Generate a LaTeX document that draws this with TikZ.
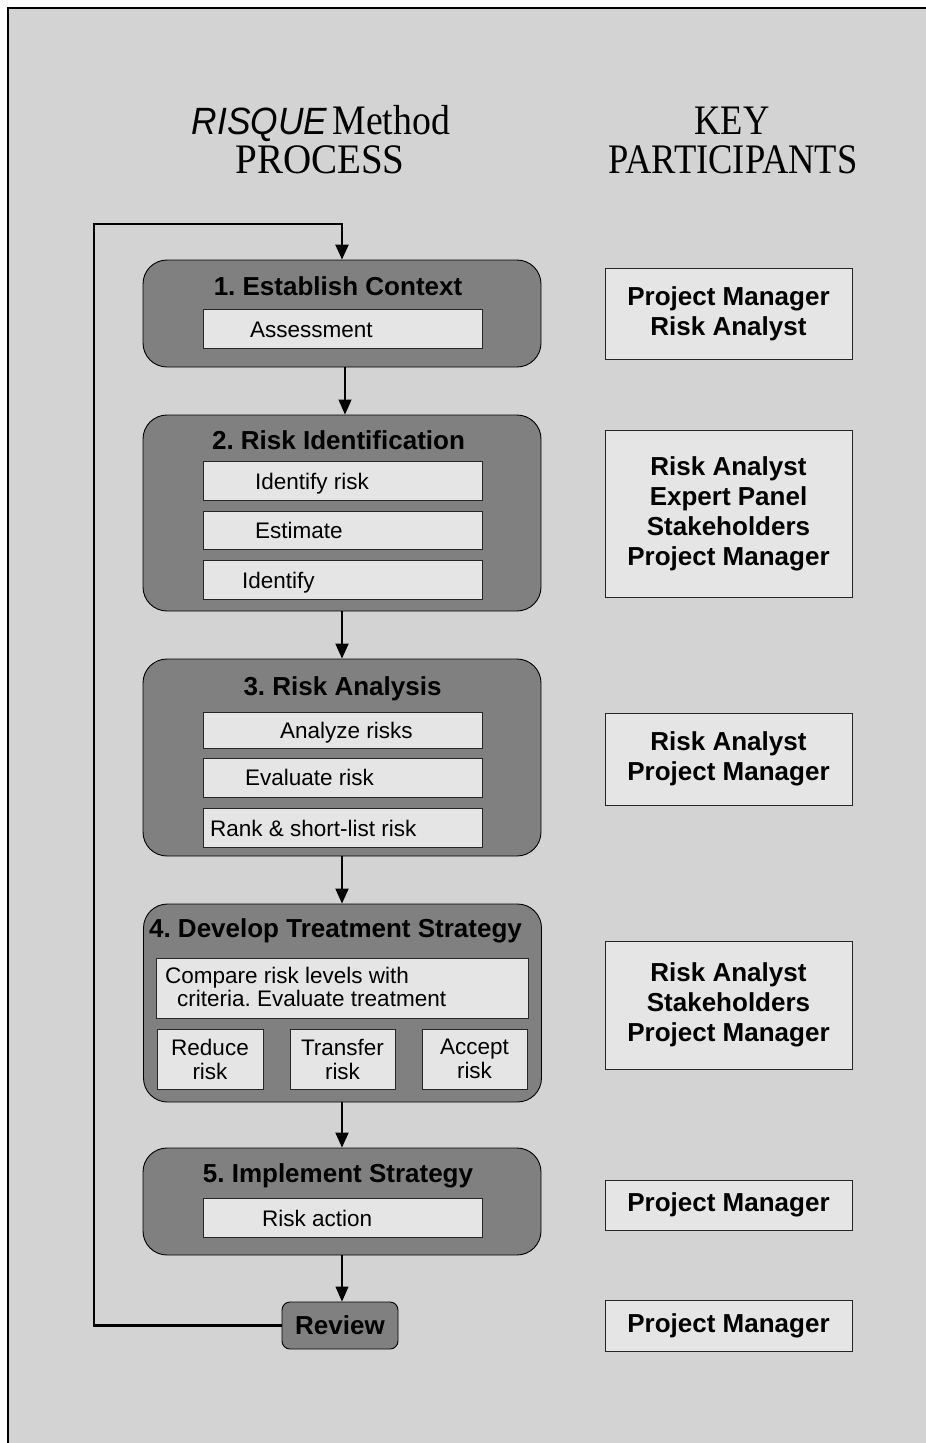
\documentclass[tikz,border=0pt]{standalone}
\usepackage{fontspec}
\setmainfont{Liberation Sans}
\newfontfamily\titleserif{Liberation Serif}
\usetikzlibrary{arrows.meta}
\definecolor{bggray}{RGB}{211,211,211}
\definecolor{darkbox}{RGB}{128,128,128}
\definecolor{lightbox}{RGB}{229,229,229}
\frenchspacing
\begin{document}
\begin{tikzpicture}[x=1pt,y=-1pt,
  phase/.style={draw=black, line width=0.9pt, fill=darkbox, rounded corners=24pt, minimum width=398pt, inner sep=0pt},
  subbox/.style={draw=black!85, line width=0.8pt, fill=lightbox, inner sep=0pt},
  subc/.style={subbox, align=center, font=\fontsize{22.5}{24}\selectfont},
  ptitle/.style={font=\fontsize{26}{30}\selectfont\bfseries, inner sep=0pt, anchor=base},
  subtext/.style={font=\fontsize{22.5}{23}\selectfont, inner sep=0pt, anchor=base west},
  partbox/.style={draw=black!85, line width=1pt, fill=lightbox, minimum width=247pt, align=center, inner sep=0pt, font=\fontsize{26}{30}\selectfont\bfseries},
  headline/.style={inner sep=0pt, anchor=base},
  flow/.style={line width=2pt, -{Triangle[length=15pt,width=13pt]}},
  flowthin/.style={line width=1.2pt, -{Triangle[length=15pt,width=13pt]}},
]
\useasboundingbox (0,0) rectangle (926,1443);
\fill[bggray] (8,8) rectangle (926,1443);
\draw[line width=2pt] (926,8) -- (8,8) -- (8,1443);

% headings
\node[headline] (H1) at (321,134) {\scalebox{0.93}[1]{\fontsize{38}{38}\selectfont\itshape RISQUE}\hspace{5pt}\scalebox{0.9}[1]{\titleserif\fontsize{42}{42}\selectfont Method}};
\node[headline] (H2) at (320,173) {\scalebox{0.93}[1]{\titleserif\fontsize{42}{42}\selectfont PROCESS}};
\node[headline] (H3) at (732,134) {\scalebox{0.87}[1]{\titleserif\fontsize{42}{42}\selectfont KEY}};
\node[headline] (H4) at (733,173) {\scalebox{0.87}[1]{\titleserif\fontsize{42}{42}\selectfont PARTICIPANTS}};

% phase 1
\node[phase, minimum height=107pt] (B1) at (342,313.5) {};
\node[ptitle] (T1) at (338,295) {1. Establish Context};
\node[subbox, minimum width=279pt, minimum height=39pt] (S1a) at (342.5,328.5) {};
\node[subtext] (L1a) at (250,337.3) {Assessment};

% phase 2
\node[phase, minimum height=196pt] (B2) at (342,513) {};
\node[ptitle] (T2) at (338.5,449) {2. Risk Identification};
\node[subbox, minimum width=279pt, minimum height=39pt] (S2a) at (342.5,480.5) {};
\node[subtext] (L2a) at (255,489) {Identify risk};
\node[subbox, minimum width=279pt, minimum height=38pt] (S2b) at (342.5,530) {};
\node[subtext] (L2b) at (255,538.5) {Estimate};
\node[subbox, minimum width=279pt, minimum height=39pt] (S2c) at (342.5,579.5) {};
\node[subtext] (L2c) at (242,588) {Identify};

% phase 3
\node[phase, minimum height=197pt] (B3) at (342,757.5) {};
\node[ptitle] (T3) at (342.5,695.5) {3. Risk Analysis};
\node[subbox, minimum width=279pt, minimum height=36pt] (S3a) at (342.5,730) {};
\node[subtext] (L3a) at (280,738.3) {Analyze risks};
\node[subbox, minimum width=279pt, minimum height=39pt] (S3b) at (342.5,777.5) {};
\node[subtext] (L3b) at (245,785.5) {Evaluate risk};
\node[subbox, minimum width=279pt, minimum height=39pt] (S3c) at (342.5,827.5) {};
\node[subtext] (L3c) at (210,836.5) {Rank \& short-list risk};

% phase 4
\node[phase, minimum height=198pt] (B4) at (342.5,1003) {};
\node[ptitle] (T4) at (335.5,937.5) {4. Develop Treatment Strategy};
\node[subbox, minimum width=372pt, minimum height=60pt] (S4) at (342,988) {};
\node[subtext, anchor=north west, align=left] (L4) at (165,967) {Compare risk levels with\\\hspace*{12pt}criteria. Evaluate treatment};
\node[subc, minimum width=106pt, minimum height=60pt] (S4r) at (210,1059) {Reduce\\risk};
\node[subc, minimum width=105pt, minimum height=60pt] (S4t) at (342.5,1059) {Transfer\\risk};
\node[subc, minimum width=105pt, minimum height=60pt] (S4a) at (474.5,1059) {Accept\\risk};

% phase 5
\node[phase, minimum height=107pt] (B5) at (342,1201.5) {};
\node[ptitle] (T5) at (338,1182) {5. Implement Strategy};
\node[subbox, minimum width=279pt, minimum height=39pt] (S5) at (342.5,1217.5) {};
\node[subtext] (L5) at (262,1226) {Risk action};

% review
\node[phase, rounded corners=8pt, minimum width=116pt, minimum height=47pt, font=\fontsize{26}{30}\selectfont\bfseries] (Rev) at (340,1325.5) {Review};

% participants
\node[partbox, minimum height=91pt] (P1) at (728.5,313.5) {Project Manager\\Risk Analyst};
\node[partbox, minimum height=167pt] (P2) at (728.5,513.5) {Risk Analyst\\Expert Panel\\Stakeholders\\Project Manager};
\node[partbox, minimum height=92pt] (P3) at (728.5,759) {Risk Analyst\\Project Manager};
\node[partbox, minimum height=128pt] (P4) at (728.5,1005) {Risk Analyst\\Stakeholders\\Project Manager};
\node[partbox, minimum height=50pt] (P5) at (728.5,1205) {Project Manager};
\node[partbox, minimum height=51pt] (P6) at (728.5,1325.5) {Project Manager};

% connectors
\draw[flowthin] ([xshift=3pt]B1.south) -- ([xshift=3pt]B2.north);
\draw[flow] (B2.south) -- (B3.north);
\draw[flow] (B3.south) -- (B3.south |- B4.north);
\draw[flow] (B3.south |- B4.south) -- (B3.south |- B5.north);
\draw[flowthin] (B5.south) -- (B5.south |- Rev.north);
\coordinate (FB) at (94,224);
\draw[flow, line width=2.5pt] (Rev.west) -| (FB) -| (B1.north);
\end{tikzpicture}
\end{document}
